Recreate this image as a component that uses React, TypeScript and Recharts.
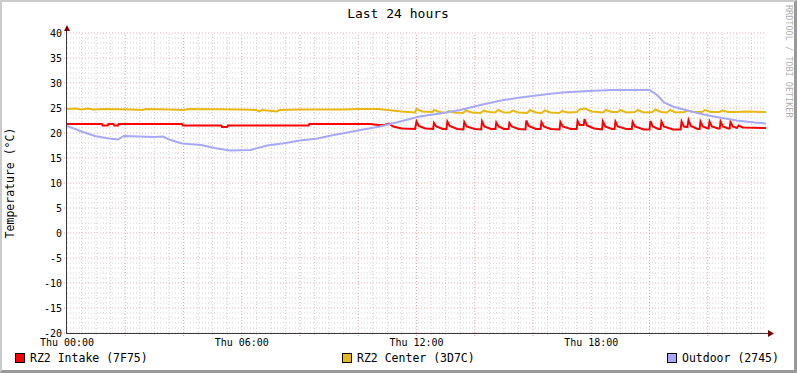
import { LineChart, Line, XAxis, YAxis, ReferenceLine } from 'recharts';

// temperature readings, [hour, °C]
const intake: [number, number][] = [
  [0, 21.8], [1.2, 21.8], [1.22, 21.5], [1.4, 21.5], [1.42, 21.8], [1.6, 21.8], [1.62, 21.5], [1.75, 21.5],
  [1.77, 21.8], [3.95, 21.8], [3.97, 21.5], [5.3, 21.5], [5.32, 21.2], [5.5, 21.2], [5.52, 21.5], [8.3, 21.5],
  [8.32, 21.8], [10.4, 21.8], [10.7, 21.6], [10.9, 21.6], [11.05, 21.9], [11.2, 21.3], [11.5, 20.9], [11.95, 20.8],
  [12.0, 22.3], [12.08, 21.4], [12.3, 20.9], [12.57, 20.8],
  [12.6, 22.0], [12.68, 21.3], [12.9, 20.8], [13.03, 20.8],
  [13.06, 22.3], [13.14, 21.4], [13.4, 20.8], [13.61, 20.7],
  [13.64, 22.2], [13.72, 21.3], [14.0, 20.8], [14.22, 20.7],
  [14.25, 22.3], [14.33, 21.3], [14.55, 20.8], [14.71, 20.8],
  [14.74, 22.1], [14.82, 21.3], [15.0, 20.8], [15.16, 20.8],
  [15.19, 22.0], [15.27, 21.3], [15.5, 20.8], [15.74, 20.7],
  [15.77, 22.5], [15.85, 21.4], [16.1, 20.8], [16.26, 20.8],
  [16.29, 22.2], [16.37, 21.3], [16.6, 20.8], [16.91, 20.7],
  [16.94, 22.2], [17.02, 21.3], [17.3, 20.8], [17.5, 20.8],
  [17.53, 22.4], [17.6, 21.6], [17.74, 21.6], [17.77, 22.8], [17.85, 21.5], [18.1, 20.9], [18.37, 20.7],
  [18.4, 22.3], [18.48, 21.3], [18.7, 20.8], [18.8, 20.8],
  [18.83, 22.3], [18.91, 21.3], [19.2, 20.8], [19.39, 20.8],
  [19.42, 22.2], [19.5, 21.3], [19.8, 20.7], [20.0, 20.7],
  [20.03, 22.4], [20.11, 21.3], [20.3, 20.8], [20.38, 20.8],
  [20.41, 22.3], [20.49, 21.3], [20.8, 20.7], [21.07, 20.7],
  [21.1, 22.3], [21.18, 21.3], [21.3, 21.2], [21.34, 22.6], [21.42, 21.4], [21.65, 20.8], [21.72, 20.8],
  [21.75, 22.3], [21.83, 21.3], [22.0, 20.9], [22.03, 20.9],
  [22.06, 22.3], [22.14, 21.3], [22.35, 20.9], [22.41, 20.9],
  [22.44, 22.3], [22.52, 21.3], [22.7, 20.9], [22.75, 20.9],
  [22.78, 22.2], [22.86, 21.3], [23.0, 21.0], [23.06, 21.5], [23.2, 21.1], [24, 21.0],
];

const center: [number, number][] = [
  [0, 24.8], [0.3, 24.9], [0.5, 24.7], [0.7, 24.9], [0.9, 24.7], [1.3, 24.8], [2.2, 24.7], [2.6, 24.6],
  [2.7, 24.8], [3.5, 24.7], [4.0, 24.6], [4.2, 24.8], [6.0, 24.7], [6.5, 24.6], [6.6, 24.3], [6.7, 24.6],
  [7.2, 24.3], [7.3, 24.6], [8.0, 24.7], [9.5, 24.7], [10.0, 24.8], [10.7, 24.8], [11.0, 24.6], [11.5, 24.3],
  [11.95, 24.1], [12.0, 24.8], [12.2, 24.3], [12.55, 24.2], [12.6, 24.6], [12.8, 24.2], [13.0, 24.0], [13.1, 24.4],
  [13.3, 24.1], [13.6, 24.0], [13.7, 24.5], [13.9, 24.1], [14.2, 24.0], [14.3, 24.5], [14.5, 24.2], [14.7, 24.1],
  [14.8, 24.6], [15.0, 24.1], [15.2, 24.1], [15.3, 24.5], [15.5, 24.1], [15.8, 24.0], [15.9, 24.6], [16.1, 24.1],
  [16.3, 24.0], [16.4, 24.5], [16.6, 24.1], [16.9, 24.0], [17.0, 24.4], [17.2, 24.1], [17.5, 24.2], [17.6, 24.7],
  [17.8, 24.9], [18.0, 24.3], [18.4, 24.1], [18.5, 24.6], [18.7, 24.2], [18.9, 24.2], [19.0, 24.6], [19.2, 24.1],
  [19.5, 24.2], [19.6, 24.6], [19.8, 24.1], [20.1, 24.2], [20.2, 24.7], [20.4, 24.2], [20.6, 24.1], [20.7, 24.6],
  [20.9, 24.1], [21.2, 24.2], [21.3, 24.5], [21.5, 24.2], [21.8, 24.2], [21.9, 24.6], [22.1, 24.2], [22.4, 24.2],
  [22.5, 24.5], [22.7, 24.2], [23.0, 24.2], [23.3, 24.3], [24, 24.2],
];

const outdoor: [number, number][] = [
  [0, 21.4], [0.5, 20.3], [0.96, 19.4], [1.44, 18.9], [1.75, 18.7], [1.95, 19.4], [2.5, 19.3], [3.0, 19.2],
  [3.3, 19.3], [3.5, 18.7], [3.95, 17.9], [4.6, 17.6], [5.15, 16.9], [5.6, 16.5], [6.3, 16.6], [6.87, 17.5],
  [7.4, 17.9], [8.0, 18.5], [8.6, 18.9], [9.15, 19.6], [9.45, 19.9], [10.07, 20.6], [10.75, 21.3], [11.44, 22.3],
  [12.1, 23.3], [12.8, 23.9], [13.5, 24.6], [14.2, 25.6], [14.9, 26.5], [15.56, 27.1], [16.25, 27.6], [17.0, 28.1],
  [17.9, 28.4], [18.7, 28.6], [20.0, 28.6], [20.26, 27.6], [20.5, 26.1], [20.8, 25.3], [21.3, 24.5], [21.85, 23.7],
  [22.4, 23.1], [23.0, 22.5], [23.6, 22.1], [24, 21.9],
];

const yTicks = [-20, -15, -10, -5, 0, 5, 10, 15, 20, 25, 30, 35, 40];
const xTicks = [0, 6, 12, 18];
const xLabels = ['Thu 00:00', 'Thu 06:00', 'Thu 12:00', 'Thu 18:00'];

const series = [
  { name: 'RZ2 Intake (7F75)', data: intake, color: '#ff0000' },
  { name: 'RZ2 Center (3D7C)', data: center, color: '#e8b815' },
  { name: 'Outdoor (2745)', data: outdoor, color: '#a8a8f8' },
];

const toRows = (d: [number, number][]) => d.map(([t, v]) => ({ t, v }));

// grid positions
const minorY: number[] = [];
for (let v = -20; v <= 40; v++) if (v % 5 !== 0) minorY.push(v);
const minorX: number[] = [];
for (let h = 0.5; h < 24; h += 0.5) if (h % 2 !== 0) minorX.push(h);
const majorX = [2, 4, 6, 8, 10, 12, 14, 16, 18, 20, 22];

const mono = '"DejaVu Sans Mono", monospace';
const minorColor = '#d0d0d0';
const majorColor = '#e0a8a8';

export default function App() {
  return (
    <div style={{ position: 'absolute', left: 0, top: 0, width: 797, height: 373, background: '#fff', fontFamily: mono }}>
      <style>{'body{margin:0}'}</style>
      <LineChart width={797} height={373} margin={{ top: 33, right: 31, left: 0, bottom: 0 }}>
        <XAxis
          dataKey="t"
          type="number"
          domain={[0, 24]}
          ticks={xTicks}
          tickFormatter={(v: number) => xLabels[xTicks.indexOf(v)]}
          height={40}
          axisLine={false}
          tickLine={false}
          tickSize={0}
          tickMargin={6}
          tick={{ fontSize: 10, fill: '#000', fontFamily: mono }}
          allowDataOverflow
        />
        <YAxis
          type="number"
          domain={[-20, 40]}
          ticks={yTicks}
          width={67}
          axisLine={false}
          tickLine={false}
          tickSize={0}
          tickMargin={5}
          tick={{ fontSize: 10, fill: '#000', fontFamily: mono }}
          allowDataOverflow
        />
        {minorY.map(v => (
          <ReferenceLine key={'my' + v} y={v} stroke={minorColor} strokeDasharray="1 2" />
        ))}
        {minorX.map(h => (
          <ReferenceLine key={'mx' + h} segment={[{ x: h, y: -20.4 }, { x: h, y: 40 }]} ifOverflow="visible" stroke={minorColor} strokeDasharray="1 2" />
        ))}
        {yTicks.map(v => (
          <ReferenceLine key={'My' + v} segment={[{ x: -0.1, y: v }, { x: 24, y: v }]} ifOverflow="visible" stroke={majorColor} strokeDasharray="1 2" />
        ))}
        {majorX.map(h => (
          <ReferenceLine key={'Mx' + h} segment={[{ x: h, y: -20.6 }, { x: h, y: 40 }]} ifOverflow="visible" stroke={majorColor} strokeDasharray="1 2" />
        ))}
        {series.map(s => (
          <Line
            key={s.name}
            data={toRows(s.data)}
            dataKey="v"
            type="linear"
            stroke={s.color}
            strokeWidth={2}
            dot={false}
            activeDot={false}
            isAnimationActive={false}
          />
        ))}
      </LineChart>

      <svg width={797} height={373} style={{ position: 'absolute', left: 0, top: 0, pointerEvents: 'none' }}>
        <line x1={67} y1={333.5} x2={770} y2={333.5} stroke="#3a3a3a" strokeWidth={1} />
        <line x1={66.5} y1={334} x2={66.5} y2={29} stroke="#3a3a3a" strokeWidth={1} />
        <polygon points="64,31 70,31 67,25" fill="#7f0000" />
        <polygon points="768,330 768,337 774,333.5" fill="#7f0000" />
        <text x={398} y={18} textAnchor="middle" fontSize={13} fontFamily={mono} fill="#000">Last 24 hours</text>
        <text transform="translate(14,183) rotate(-90)" textAnchor="middle" fontSize={11.5} fontFamily={mono} fill="#000">Temperature (°C)</text>
        <text transform="translate(786,5) rotate(90)" textAnchor="start" fontSize={8.5} fontFamily={mono} fill="#b0b0b0">RRDTOOL / TOBI OETIKER</text>
        {series.map((s, i) => {
          const bx = [15, 342, 667][i];
          return (
            <g key={s.name}>
              <rect x={bx + 0.5} y={353.5} width={9} height={9} fill={s.color} stroke="#000" strokeWidth={1} />
              <text x={bx + 15} y={362} fontSize={11.5} fontFamily={mono} fill="#000">{s.name}</text>
            </g>
          );
        })}
      </svg>
      <div style={{ position: 'absolute', left: 0, top: 0, width: 797, height: 373, boxSizing: 'border-box', borderTop: '2px solid #cbcbcb', borderLeft: '2px solid #cbcbcb', borderRight: '3px solid #999', borderBottom: '3px solid #999', pointerEvents: 'none' }} />
    </div>
  );
}
